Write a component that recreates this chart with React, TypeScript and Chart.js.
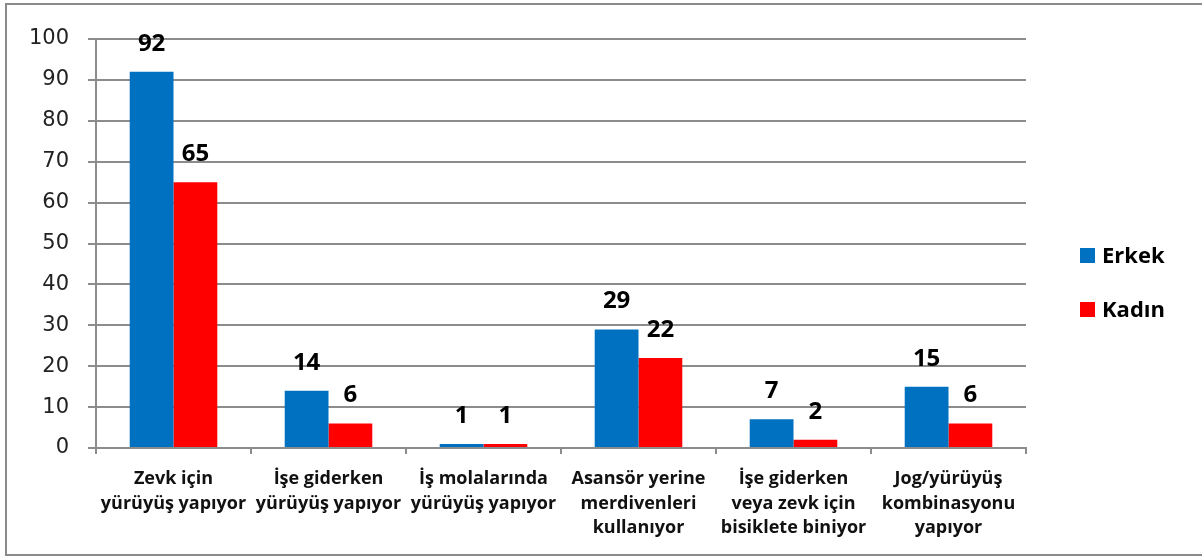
import React, { useEffect, useRef } from "react";
import { Chart, registerables } from "chart.js";

Chart.register(...registerables);

const categories: string[][] = [
  ["Zevk için", "yürüyüş yapıyor"],
  ["İşe giderken", "yürüyüş yapıyor"],
  ["İş molalarında", "yürüyüş yapıyor"],
  ["Asansör yerine", "merdivenleri", "kullanıyor"],
  ["İşe giderken", "veya zevk için", "bisiklete biniyor"],
  ["Jog/yürüyüş", "kombinasyonu", "yapıyor"],
];
const erkek: number[] = [92, 14, 1, 29, 7, 15];
const kadin: number[] = [65, 6, 1, 22, 2, 6];
const seriesNames: string[] = ["Erkek", "Kadın"];
const seriesColors: string[] = ["#0070C0", "#FF0000"];

const FONT = "'Open Sans', 'DejaVu Sans', sans-serif";
const GRID = "#8c8c8c";

const framePlugin = {
  id: "frame",
  beforeDraw(chart: any) {
    const ctx = chart.ctx;
    ctx.save();
    ctx.fillStyle = "#ffffff";
    ctx.fillRect(0, 0, chart.width, chart.height);
    ctx.fillStyle = "#8a8a8a";
    ctx.fillRect(5, 3, chart.width, 2);
    ctx.fillRect(5, 3, 2, chart.height);
    ctx.fillRect(5, 554, chart.width, 2);
    ctx.restore();
  },
};

const labelPlugin = {
  id: "valueLabels",
  afterDatasetsDraw(chart: any) {
    const ctx = chart.ctx;
    ctx.save();
    ctx.font = `bold 24px ${FONT}`;
    ctx.fillStyle = "#000000";
    ctx.textAlign = "center";
    ctx.textBaseline = "alphabetic";
    chart.data.datasets.forEach((ds: any, di: number) => {
      const meta = chart.getDatasetMeta(di);
      meta.data.forEach((bar: any, i: number) => {
        ctx.fillText(String(ds.data[i]), bar.x, bar.y - 21);
      });
    });
    ctx.restore();
  },
};

const legendPlugin = {
  id: "customLegend",
  afterDraw(chart: any) {
    const ctx = chart.ctx;
    ctx.save();
    ctx.font = `bold 22px ${FONT}`;
    ctx.textAlign = "left";
    ctx.textBaseline = "middle";
    const ys = [255, 309];
    seriesNames.forEach((name, i) => {
      ctx.fillStyle = seriesColors[i];
      ctx.fillRect(1080, ys[i] - 7, 15, 15);
      ctx.fillStyle = "#000000";
      ctx.fillText(name, 1102, ys[i] + 2);
    });
    ctx.restore();
  },
};

export default function App() {
  const ref = useRef<HTMLCanvasElement | null>(null);
  useEffect(() => {
    if (!ref.current) return;
    const chart = new Chart(ref.current, {
      type: "bar",
      data: {
        labels: categories,
        datasets: [
          {
            label: seriesNames[0],
            data: erkek,
            backgroundColor: seriesColors[0],
            categoryPercentage: 0.565,
            barPercentage: 1,
          },
          {
            label: seriesNames[1],
            data: kadin,
            backgroundColor: seriesColors[1],
            categoryPercentage: 0.565,
            barPercentage: 1,
          },
        ],
      },
      options: {
        animation: false,
        responsive: false,
        maintainAspectRatio: false,
        layout: { padding: { left: 0, top: 39, right: 176, bottom: 0 } },
        plugins: {
          legend: { display: false },
          tooltip: { enabled: false },
        },
        scales: {
          x: {
            afterFit(scale: any) {
              scale.height = 108;
            },
            grid: {
              drawOnChartArea: false,
              drawTicks: true,
              tickLength: 6,
              color: GRID,
              lineWidth: 2,
            },
            border: { display: true, color: GRID, width: 2 },
            ticks: {
              color: "#111111",
              font: { family: FONT, size: 18, weight: "bold", lineHeight: 1.36 },
              padding: 13,
              maxRotation: 0,
              autoSkip: false,
            },
          },
          y: {
            min: 0,
            max: 100,
            afterFit(scale: any) {
              scale.width = 96;
            },
            ticks: {
              stepSize: 10,
              color: "#222222",
              font: { family: "'DejaVu Sans', sans-serif", size: 21 },
              padding: 19,
            },
            grid: {
              color: GRID,
              lineWidth: 2,
              drawTicks: true,
              tickLength: 8,
            },
            border: { display: true, color: GRID, width: 2 },
          },
        },
      },
      plugins: [framePlugin, labelPlugin, legendPlugin],
    });
    return () => chart.destroy();
  }, []);
  return (
    <div style={{ position: "fixed", left: 0, top: 0, width: 1202, height: 556 }}>
      <canvas ref={ref} width={1202} height={556} style={{ display: "block", width: 1202, height: 556 }} />
    </div>
  );
}
